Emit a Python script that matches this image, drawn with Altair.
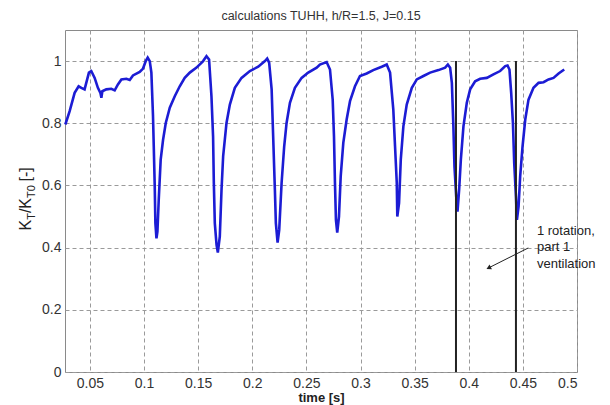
import altair as alt
import pandas as pd

# ---- data ----
t = [0.0273, 0.0313, 0.0359, 0.0396, 0.0421, 0.0451, 0.0491, 0.0513, 0.0544, 0.0574,
     0.0597, 0.0606, 0.0615, 0.0652, 0.0698, 0.0729, 0.0759, 0.0791, 0.0837, 0.0868,
     0.0898, 0.0960, 0.0991, 0.1016, 0.1034, 0.1053, 0.1068, 0.1083, 0.1090, 0.1099,
     0.1105, 0.1115, 0.1124, 0.1136, 0.1154, 0.1176, 0.1201, 0.1238, 0.1284, 0.1330,
     0.1376, 0.1423,
     0.1485, 0.1546, 0.1577, 0.1601, 0.1623, 0.1638, 0.1645, 0.1654, 0.1670, 0.1682,
     0.1700, 0.1716, 0.1731, 0.1762, 0.1793, 0.1839, 0.1901, 0.1978, 0.2055, 0.2117,
     0.2138, 0.2156, 0.2179, 0.2193, 0.2209, 0.2218, 0.2234, 0.2249, 0.2271, 0.2295,
     0.2317, 0.2348, 0.2394, 0.2456, 0.2517, 0.2595,
     0.2625, 0.2687, 0.2718, 0.2743, 0.2755, 0.2764, 0.2773, 0.2785, 0.2801, 0.2817,
     0.2841, 0.2872, 0.2903, 0.2949, 0.2995, 0.3057, 0.3118, 0.3196, 0.3242, 0.3273,
     0.3303, 0.3319, 0.3335, 0.3340, 0.3356, 0.3372, 0.3396, 0.3427, 0.3474, 0.3520,
     0.3581, 0.3643, 0.3720, 0.3782, 0.3807,
     0.3828, 0.3844, 0.3858, 0.3868, 0.3884, 0.3896, 0.3911, 0.3927, 0.3951, 0.3982,
     0.4013, 0.4059, 0.4105, 0.4167, 0.4228, 0.4290, 0.4337, 0.4358, 0.4376, 0.4392,
     0.4408, 0.4420, 0.4436, 0.4445, 0.4460, 0.4475, 0.4497, 0.4522, 0.4552, 0.4598,
     0.4645, 0.4691, 0.4737, 0.4783, 0.4830, 0.4882]

kt = [0.796, 0.839, 0.898, 0.919, 0.914, 0.909, 0.963, 0.968, 0.946, 0.914,
      0.898, 0.882, 0.903, 0.909, 0.911, 0.906, 0.925, 0.941, 0.943, 0.939,
      0.954, 0.965, 0.976, 1.000, 1.011, 1.000, 0.963, 0.823, 0.726, 0.597,
      0.479, 0.430, 0.452, 0.554, 0.683, 0.747, 0.801, 0.850, 0.887, 0.919,
      0.946, 0.963,
      0.979, 1.000, 1.016, 1.005, 0.887, 0.758, 0.608, 0.479, 0.409, 0.384,
      0.435, 0.586, 0.694, 0.801, 0.860, 0.914, 0.946, 0.968, 0.982, 1.000,
      1.008, 0.995, 0.909, 0.758, 0.586, 0.479, 0.416, 0.457, 0.608, 0.726,
      0.801, 0.866, 0.914, 0.946, 0.963, 0.979,
      0.989, 0.997, 0.973, 0.876, 0.758, 0.608, 0.489, 0.448, 0.500, 0.629,
      0.737, 0.812, 0.871, 0.919, 0.952, 0.960, 0.971, 0.982, 0.989, 0.963,
      0.844, 0.726, 0.608, 0.500, 0.543, 0.683, 0.790, 0.860, 0.914, 0.941,
      0.952, 0.963, 0.971, 0.979, 0.989,
      0.979, 0.930, 0.790, 0.661, 0.565, 0.516, 0.586, 0.683, 0.790, 0.866,
      0.909, 0.935, 0.943, 0.946, 0.957, 0.968, 0.984, 0.986, 0.973, 0.898,
      0.801, 0.672, 0.565, 0.489, 0.532, 0.629, 0.726, 0.812, 0.876, 0.914,
      0.930, 0.932, 0.941, 0.946, 0.960, 0.973]

rotation_t = [0.3882, 0.4436]
rotation_y0 = [0.0, 0.0]
rotation_y1 = [1.0, 1.0]

note_lines = ["1 rotation,", "part 1", "ventilation"]
note_x = [0.463, 0.463, 0.463]
note_y = [0.4535, 0.4016, 0.3468]

arrow_x0, arrow_y0 = [0.455], [0.399]
arrow_x1, arrow_y1 = [0.419], [0.336]

x_ticks = [0.05, 0.1, 0.15, 0.2, 0.25, 0.3, 0.35, 0.4, 0.45, 0.5]
y_ticks = [0, 0.2, 0.4, 0.6, 0.8, 1.0]

FONT = "Liberation Sans"
BLUE = "#1c1cd4"
DARK = "#222222"

df = pd.DataFrame({"t": t, "kt": kt})
df_rot = pd.DataFrame({"t": rotation_t, "y0": rotation_y0, "y1": rotation_y1})
df_note = pd.DataFrame({"t": note_x, "kt": note_y, "txt": note_lines})
df_arrow = pd.DataFrame({"x0": arrow_x0, "y0": arrow_y0, "x1": arrow_x1, "y1": arrow_y1})
dummy = pd.DataFrame({"a": [0]})

xs = alt.Scale(domain=[0.027, 0.5], nice=False, zero=False)
ys = alt.Scale(domain=[0, 1.1], nice=False, zero=False)

line = alt.Chart(df).mark_line(color=BLUE, strokeWidth=2.6).encode(
    x=alt.X("t:Q", scale=xs,
            axis=alt.Axis(values=x_ticks, format="~g", labelPadding=4,
                          title="time [s]", titleFontWeight="bold", titleFontSize=13,
                          titlePadding=1, titleColor=DARK, titleFont=FONT)),
    y=alt.Y("kt:Q", scale=ys,
            axis=alt.Axis(values=y_ticks, format="~g", labelPadding=4, title=None)),
)

rules = alt.Chart(df_rot).mark_rule(color=DARK, strokeWidth=2).encode(
    x=alt.X("t:Q", scale=xs), y=alt.Y("y0:Q", scale=ys), y2="y1:Q"
)

arrow = alt.Chart(df_arrow).mark_rule(color=DARK, strokeWidth=1).encode(
    x=alt.X("x0:Q", scale=xs), y=alt.Y("y0:Q", scale=ys), x2="x1:Q", y2="y1:Q"
)
head = alt.Chart(df_arrow).mark_point(shape="triangle", filled=True, color=DARK,
                                      size=30, angle=243, opacity=1).encode(
    x=alt.X("x1:Q", scale=xs), y=alt.Y("y1:Q", scale=ys)
)

note = alt.Chart(df_note).mark_text(align="left", baseline="middle", fontSize=13,
                                    font=FONT, color=DARK).encode(
    x=alt.X("t:Q", scale=xs), y=alt.Y("kt:Q", scale=ys), text="txt:N"
)

# y-axis title with subscripts: K_T / K_T0 [-]
def seg(txt, ypos, size, xpos):
    return alt.Chart(dummy).mark_text(
        text=txt, angle=270, align="left", baseline="alphabetic",
        fontSize=size, font=FONT, color=DARK
    ).encode(x=alt.value(xpos), y=alt.value(ypos))

MAIN, SUB = 16, 11
XB, XS = -34, -30
ytitle = [
    seg("K", 200.5, MAIN, XB),
    seg("T", 189.8, SUB, XS),
    seg("/K", 183.1, MAIN, XB),
    seg("T0", 168.0, SUB, XS),
    seg("[-]", 151.5, MAIN, XB),
]

chart = alt.layer(line, rules, arrow, head, note, *ytitle).properties(
    width=512, height=342,
    title=alt.TitleParams("calculations TUHH, h/R=1.5, J=0.15", fontSize=12.5,
                          font=FONT, fontWeight="normal", color="#333333", offset=8),
    padding={"left": 57, "top": 22, "right": 25, "bottom": 33},
    autosize=alt.AutoSizeParams(type="none"),
).configure_view(stroke="#8a8a8a", strokeWidth=1).configure_axis(
    domain=False, ticks=False, grid=True, gridDash=[4, 3], gridColor="#9a9a9a",
    gridWidth=1, labelFont=FONT, labelFontSize=14, labelColor="#333333",
)

chart.save("out.html", embed_options={"renderer": "svg", "actions": False})
